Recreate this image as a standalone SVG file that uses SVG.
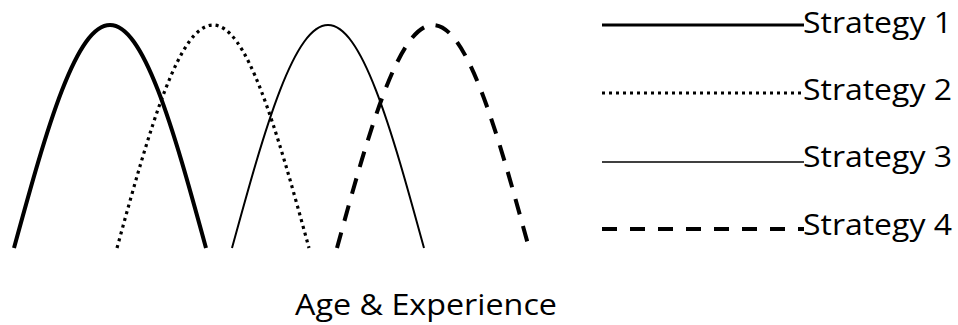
<svg xmlns="http://www.w3.org/2000/svg" xmlns:xlink="http://www.w3.org/1999/xlink" width="958" height="325" viewBox="0 0 958 325">
<style>
.bg{fill:#ffffff}
.c{fill:none;stroke:#000000}
.s1{stroke-width:4}
.s2{stroke-width:3.2;stroke-dasharray:3 4}
.s3{stroke-width:2}
.s4{stroke-width:4;stroke-dasharray:16 12}
.l1{stroke-width:3.2}
.l2{stroke-width:3;stroke-dasharray:3 4}
.l3{stroke-width:1.4}
.l4{stroke-width:4;stroke-dasharray:15 13}
.t{font-family:"Open Sans",Lato,"Liberation Sans",sans-serif;font-size:28.5px;fill:#000000}
</style>
<defs>
<path id="arch" d="M-96,248 C-88,218.81 -80,189.63 -72,162.66 C-64,135.69 -56,110.96 -48,90.32 C-40,69.68 -32,53.14 -24,41.97 C-16,30.8 -8,25 0,25 C8,25 16,30.8 24,41.97 C32,53.14 40,69.68 48,90.32 C56,110.96 64,135.69 72,162.66 C80,189.63 88,218.81 96,248"/>
</defs>
<rect class="bg" x="0" y="0" width="958" height="325"/>
<g id="connectors">
<use xlink:href="#arch" href="#arch" class="c s1" transform="translate(110,0)"/>
<use xlink:href="#arch" href="#arch" class="c s2" transform="translate(213,0)"/>
<use xlink:href="#arch" href="#arch" class="c s3" transform="translate(328,0)"/>
<use xlink:href="#arch" href="#arch" class="c s4" transform="translate(433,0)"/>
</g>
<g id="legend-strategy-1">
<line class="c l1" x1="602" y1="25" x2="804" y2="25"/>
<text class="t" x="803" y="33" textLength="149" lengthAdjust="spacingAndGlyphs">Strategy 1</text>
</g>
<g id="legend-strategy-2">
<line class="c l2" x1="602" y1="93" x2="804" y2="93"/>
<text class="t" x="803" y="100" textLength="149" lengthAdjust="spacingAndGlyphs">Strategy 2</text>
</g>
<g id="legend-strategy-3">
<line class="c l3" x1="602" y1="162" x2="804" y2="162"/>
<text class="t" x="803" y="167" textLength="149" lengthAdjust="spacingAndGlyphs">Strategy 3</text>
</g>
<g id="legend-strategy-4">
<line class="c l4" x1="602" y1="229" x2="804" y2="229"/>
<text class="t" x="803" y="235" textLength="149" lengthAdjust="spacingAndGlyphs">Strategy 4</text>
</g>
<g id="axis-label">
<text class="t" x="295" y="315" textLength="262" lengthAdjust="spacingAndGlyphs">Age &amp; Experience</text>
</g>
</svg>
